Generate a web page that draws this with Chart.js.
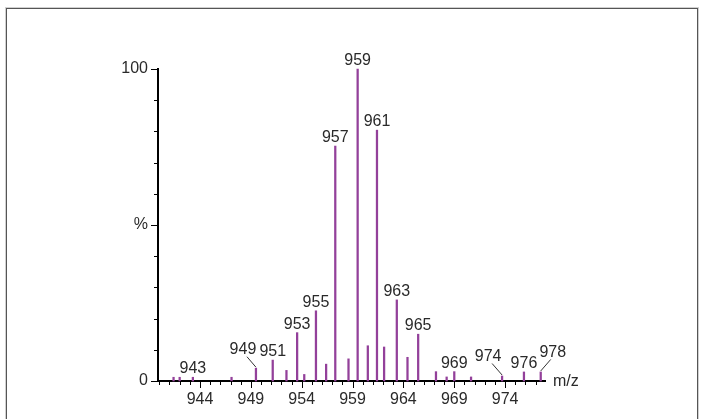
<!DOCTYPE html>
<html>
<head>
<meta charset="utf-8">
<script src="https://cdn.jsdelivr.net/npm/chart.js@4/dist/chart.umd.min.js"></script>
<style>
  html, body { margin: 0; padding: 0; background: #fff; }
  #wrap { position: relative; width: 704px; height: 419px; overflow: hidden; }
  #frame { position: absolute; left: 6px; top: 8px; width: 690px; height: 430px;
           border: 1px solid #555; box-shadow: 0 0 0 1px #d0d0d0; }
  canvas { position: absolute; left: 0; top: 0; }
</style>
</head>
<body>
<div id="wrap">
  <div id="frame"></div>
  <canvas id="c" width="704" height="419"></canvas>
</div>
<script>
// ---- data ----
const mz = [941.4, 942.0, 943.3, 947.1, 949.5, 951.15, 952.5, 953.55, 954.25, 955.4,
            956.4, 957.3, 958.6, 959.5, 960.5, 961.4, 962.1, 963.35, 964.4, 965.45,
            967.2, 968.25, 969.0, 970.65, 973.7, 975.85, 977.5];
const intensity = [1.2, 1.2, 1.2, 1.2, 4.1, 6.7, 3.4, 15.5, 2.1, 22.5,
                   5.4, 75.3, 7.1, 100, 11.3, 80.4, 10.9, 26, 7.6, 15,
                   3, 1.3, 3, 1.3, 1.6, 2.9, 2.9];
const peakLabels = ['', '', '943', '', '949', '951', '', '953', '', '955',
                    '', '957', '', '959', '', '961', '', '963', '', '965',
                    '', '', '969', '', '974', '976', '978'];
const xTickLabels = ['944', '949', '954', '959', '964', '969', '974'];
const yTickValues = [0, 50, 100];
const yTickLabels = ['0', '%', '100'];
const xAxisTitle = 'm/z';

// ---- styling ----
const FAMILY = "'Liberation Sans', Arial, sans-serif";
const FONT = "16px " + FAMILY;
const TEXT = '#2a2a2a';
const PEAK = '#93409a';
// label displacement (dx, dy) for labels drawn with leader lines
const labelShift = { '949': [-13, -10], '974': [-14, -11], '978': [12, -11] };

const peakData = mz.map((m, i) => ({ x: m, y: intensity[i] }));
const xMajorVals = xTickLabels.map(Number);

const decorPlugin = {
  id: 'decor',
  afterDraw(chart) {
    const ctx = chart.ctx;
    const xs = chart.scales.x, ys = chart.scales.y;
    const area = chart.chartArea;
    ctx.save();
    ctx.strokeStyle = '#000';
    ctx.lineWidth = 1;
    // x ticks every unit
    for (let v = Math.ceil(xs.min); v <= Math.floor(xs.max); v++) {
      const px = Math.round(xs.getPixelForValue(v)) + 0.5;
      const major = xMajorVals.includes(v);
      ctx.beginPath();
      ctx.moveTo(px, area.bottom);
      ctx.lineTo(px, area.bottom + (major ? 7 : 4));
      ctx.stroke();
    }
    // y ticks every 10
    for (let v = 0; v <= 100; v += 10) {
      const py = Math.round(ys.getPixelForValue(v)) + 0.5;
      const major = yTickValues.includes(v);
      ctx.beginPath();
      ctx.moveTo(area.left, py);
      ctx.lineTo(area.left - (major ? 7 : 4), py);
      ctx.stroke();
    }
    // peak labels
    ctx.font = FONT;
    ctx.fillStyle = TEXT;
    ctx.textAlign = 'center';
    ctx.textBaseline = 'alphabetic';
    mz.forEach((m, i) => {
      const t = peakLabels[i];
      if (!t) return;
      const px = xs.getPixelForValue(m);
      const py = ys.getPixelForValue(intensity[i]);
      const sh = labelShift[t];
      if (sh) {
        const lx = px + sh[0], ly = py - 4 + sh[1];
        ctx.fillText(t, lx, ly);
        ctx.beginPath();
        ctx.lineWidth = 1;
        ctx.strokeStyle = '#333';
        const sx = sh[0] < 0 ? lx + 4 : lx - 2;
        ctx.moveTo(sx, ly + 2.5);
        ctx.lineTo(px, py - 1);
        ctx.stroke();
      } else {
        ctx.fillText(t, px, py - 4);
      }
    });
    // axis title
    ctx.textAlign = 'left';
    ctx.textBaseline = 'middle';
    ctx.fillText(xAxisTitle, area.right + 8, area.bottom + 1);
    ctx.restore();
  }
};

new Chart(document.getElementById('c'), {
  type: 'bar',
  data: {
    datasets: [{
      data: peakData,
      backgroundColor: PEAK,
      borderWidth: 0,
      barThickness: 1.6,
      clip: false
    }]
  },
  options: {
    responsive: false,
    animation: false,
    devicePixelRatio: 1,
    layout: { padding: { left: 0, top: 69, right: 159, bottom: 0 } },
    plugins: { legend: { display: false }, tooltip: { enabled: false } },
    scales: {
      x: {
        type: 'linear',
        min: 939.87,
        max: 977.92,
        offset: false,
        grid: { display: false, drawTicks: false },
        border: { display: true, color: '#000', width: 2 },
        afterBuildTicks: s => { s.ticks = xMajorVals.map(v => ({ value: v })); },
        afterFit: s => { s.height = 38; },
        ticks: {
          autoSkip: false,
          maxRotation: 0,
          padding: 9,
          color: TEXT,
          font: { family: FAMILY, size: 16 },
          callback: v => xTickLabels[xMajorVals.indexOf(v)] ?? ''
        }
      },
      y: {
        min: 0,
        max: 100,
        grid: { display: false, drawTicks: false },
        border: { display: true, color: '#000', width: 2 },
        afterBuildTicks: s => { s.ticks = yTickValues.map(v => ({ value: v })); },
        afterFit: s => { s.width = 158; },
        ticks: {
          autoSkip: false,
          padding: 10,
          color: TEXT,
          font: { family: FAMILY, size: 16 },
          callback: v => yTickLabels[yTickValues.indexOf(v)] ?? ''
        }
      }
    }
  },
  plugins: [decorPlugin]
});
</script>
</body>
</html>
